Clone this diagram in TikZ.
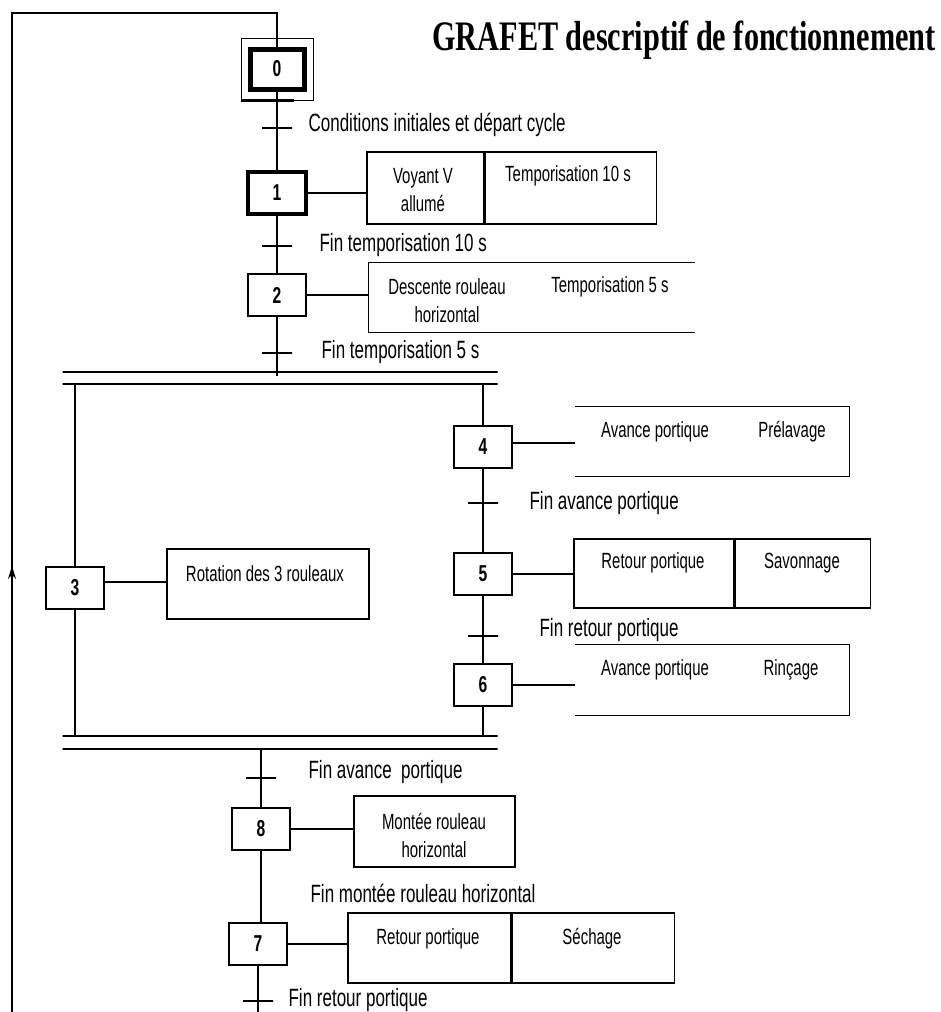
\documentclass[tikz,border=0pt]{standalone}
\usepackage{fontspec}
\setmainfont{Liberation Sans}[FakeStretch=0.68]
\newfontfamily\titlefont{Liberation Serif}[FakeStretch=0.72]
\usetikzlibrary{arrows,arrows.meta,positioning}

\begin{document}
\begin{tikzpicture}[x=1pt,y=1pt,line width=1.2pt,
  etape/.style={draw,rectangle,line width=2.6pt,minimum width=58pt,minimum height=42pt,inner sep=0pt,font=\fontsize{23}{26}\selectfont\bfseries},
  cellule/.style={rectangle,minimum height=70pt,inner sep=0pt,line width=1.3pt},
  action/.style={font=\fontsize{22}{28}\selectfont,align=center,inner sep=0pt},
  transition/.style={draw,rectangle,minimum width=30pt,minimum height=0pt,inner sep=0pt},
  recept/.style={anchor=west,font=\fontsize{25}{28}\selectfont,inner sep=0pt},
  barre/.style={draw,rectangle,minimum width=435pt,minimum height=0pt,inner sep=0pt}]

\useasboundingbox (0,0) rectangle (940,-1012);

\node[font=\titlefont\bfseries\fontsize{42}{46}\selectfont] (titre) at (684,-40) {GRAFET descriptif de fonctionnement};

% etapes
\node[etape,line width=5pt,minimum width=54pt,minimum height=40pt] (E0) at (277,-69) {0};
\node[draw,rectangle,line width=1pt,minimum width=72pt,minimum height=62pt] (E0b) at (E0) {};
\node[etape,line width=3.2pt] (E1) at (277,-193) {1};
\node[etape] (E2) at (277,-295) {2};
\node[etape] (E3) at (75,-588) {3};
\node[etape] (E4) at (483,-447) {4};
\node[etape] (E5) at (483,-574) {5};
\node[etape] (E6) at (483,-685) {6};
\node[etape] (E8) at (261,-829) {8};
\node[etape] (E7) at (258,-944) {7};
\draw[line width=3pt] (E0b.south west) -- ++(53,0);

% barres de divergence / convergence
\node[barre] (D1) at (280,-372) {};
\node[barre] (D2) at (280,-384) {};
\node[barre] (D3) at (280,-736) {};
\node[barre] (D4) at (280,-749) {};

% transitions
\node[transition] (T0) at (277,-128) {};
\node[transition] (T1) at (277,-246) {};
\node[transition] (T2) at (277,-353) {};
\node[transition] (T4) at (483,-503) {};
\node[transition,line width=2.2pt] (T5) at (483,-636) {};
\node[transition] (T6) at (261,-778) {};
\node[transition] (T7) at (258,-1001) {};

\node[recept] (R0) at (308,-125) {Conditions initiales et départ cycle};
\node[recept] (R1) at (319,-245) {Fin temporisation 10 s};
\node[recept] (R2) at (321,-352) {Fin temporisation 5 s};
\node[recept] (R4) at (529,-503) {Fin avance portique};
\node[recept] (R5) at (539,-630) {Fin retour portique};
\node[recept] (R6) at (308,-772) {Fin avance~ portique};
\node[recept] (R8) at (310,-893) {Fin montée rouleau horizontal};
\node[recept] (R7) at (288,-1000) {Fin retour portique};

% liaisons
\coordinate (bas) at (12,-1012);
\coordinate (haut) at (12,-13);
\draw[-{Stealth[length=13pt,width=8pt]}] (bas) -- (12,-566);
\draw (bas) -- (haut) -| (E0.north);
\draw (E0) -- (E1);
\draw (E1) -- (E2);
\draw (E2) -- ([yshift=-4pt]E2 |- D1);
\draw (E3) -- (E3 |- D2);
\draw (E4) -- (E4 |- D2);
\draw (E4) -- (E5);
\draw (E5) -- (E6);
\draw (E3) -- (E3 |- D3);
\draw (E6) -- (E6 |- D3);
\draw (E8 |- D4) -- (E8);
\draw (E8.south) -- (E8.south |- E7.north);
\draw (E7) -- (E7 |- bas);

% actions
\node[draw,cellule,minimum width=117pt,minimum height=72pt] (A1a) at (425.5,-188) {};
\node[draw,cellule,minimum width=171pt,minimum height=72pt,right=0pt of A1a] (A1b) {};
\node[action] (V1) at (423,-190) {Voyant V\\allumé};
\node[action] (V1b) at (568,-176) {Temporisation 10 s};

\node[cellule,minimum width=325pt,minimum height=69pt] (A2) at (531.5,-297.5) {};
\draw[line width=1.3pt] (A2.north east) -- (A2.north west) -- (A2.south west) -- (A2.south east);
\node[action] (V2) at (447,-301) {Descente rouleau\\horizontal};
\node[action] (V2b) at (610,-287) {Temporisation 5 s};

\node[draw,cellule,minimum width=202pt] (A3) at (268,-584) {};
\node[action] (V3) at (265,-574) {Rotation des 3 rouleaux};

\node[cellule,minimum width=273pt,minimum height=69pt] (A4) at (712.5,-441.5) {};
\draw[line width=1.5pt] (A4.north west) -- (A4.north east) -- (A4.south east) -- (A4.south west);
\node[action] (V4) at (655,-432) {Avance portique};
\node[action] (V4b) at (792,-432) {Prélavage};

\node[draw,cellule,minimum width=160pt,minimum height=69pt] (A5a) at (654,-573.5) {};
\node[draw,cellule,minimum width=135pt,minimum height=69pt,right=0pt of A5a] (A5b) {};
\node[action] (V5) at (653,-563) {Retour portique};
\node[action] (V5b) at (802,-563) {Savonnage};

\node[cellule,minimum width=273pt] (A6) at (712.5,-680) {};
\draw[line width=1.5pt] (A6.north west) -- (A6.north east) -- (A6.south east) -- (A6.south west);
\node[action] (V6) at (655,-670) {Avance portique};
\node[action] (V6b) at (791,-670) {Rinçage};

\node[draw,cellule,minimum width=161pt,minimum height=71pt] (A8) at (434.5,-831.5) {};
\node[action] (V8) at (434,-835) {Montée rouleau\\horizontal};

\node[draw,cellule,minimum width=163pt] (A7a) at (429.5,-948) {};
\node[draw,cellule,minimum width=162pt,right=0pt of A7a] (A7b) {};
\node[action] (V7) at (428,-939) {Retour portique};
\node[action] (V7b) at (592,-939) {Séchage};

\draw (E1.east) -- (E1.east -| A1a.west);
\draw (E2.east) -- (E2.east -| A2.west);
\draw ([yshift=6pt]E3.east) -- ([yshift=6pt]E3.east -| A3.west);
\draw ([yshift=4pt]E4.east) -- ([yshift=4pt]E4.east -| A4.west);
\draw[line width=2pt] (E5.east) -- (E5.east -| A5a.west);
\draw (E6.east) -- (E6.east -| A6.west);
\draw (E8.east) -- (E8.east -| A8.west);
\draw (E7.east) -- (E7.east -| A7a.west);
\end{tikzpicture}
\end{document}
